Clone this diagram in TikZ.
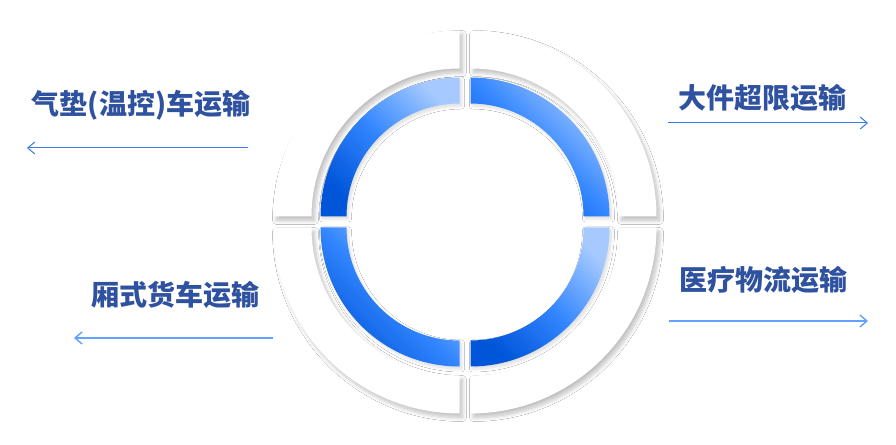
\documentclass[tikz,border=0pt]{standalone}
\usepackage{fontspec}
\newfontfamily\cjk{Noto Sans CJK SC}
\usetikzlibrary{positioning,calc,shadows.blur,arrows.meta}
\definecolor{labelblue}{HTML}{2E529F}
\definecolor{ringlight}{HTML}{A6CAFF}
\definecolor{ringmid}{HTML}{3386FF}
\definecolor{ringdark}{HTML}{0055D8}
\definecolor{arrowdark}{HTML}{3A7BE6}
\definecolor{arrowlight}{HTML}{64A0FF}
\tikzset{%
  outer seg/.style={
    fill=white,
    blur shadow={shadow xshift=3pt, shadow yshift=-4pt, shadow blur radius=4pt, shadow blur steps=10, shadow opacity=25}
  },
  inner seg/.style={
    top color=ringlight,
    bottom color=ringdark,
    middle color=ringmid,
    shading angle=-45,
    blur shadow={shadow xshift=2pt, shadow yshift=-2.5pt, shadow blur radius=3pt, shadow blur steps=8, shadow opacity=14}
  },
  mode label/.style={
    font=\cjk\bfseries\fontsize{28}{34}\selectfont,
    text=labelblue,
    inner sep=0pt
  },
  mode arrow/.style={->, line width=1pt},
}
\begin{document}
\begin{tikzpicture}[x=1pt, y=1pt, >={Straight Barb[length=7pt, width=12pt]}]
        \fill[white] (0,0) rectangle (896,444);
        \useasboundingbox (0,0) rectangle (896,444);
        \coordinate (centre) at (465,222);

        \foreach \sx/\sy/\a in {1/1/0, -1/1/90, -1/-1/180, 1/-1/270}
            \path[outer seg] ($(centre)+(5.5*\sx,5.5*\sy)$) ++(\a:186)
              arc[start angle=\a, end angle=\a+90, radius=186]
              -- ++(\a+90:-38)
              arc[start angle=\a+90, end angle=\a, radius=148] -- cycle;
        \foreach \sx/\sy/\a in {1/1/0, -1/1/90, -1/-1/180, 1/-1/270}
            \shade[inner seg] ($(centre)+(5.5*\sx,5.5*\sy)$) ++(\a:139)
              arc[start angle=\a, end angle=\a+90, radius=139]
              -- ++(\a+90:-26)
              arc[start angle=\a+90, end angle=\a, radius=113] -- cycle;

        \node[mode label] (cushion) at (141,339) {气垫(温控)车运输};
        \node[mode label] (oversize) at (762,346) {大件超限运输};
        \node[mode label] (boxtruck) at (175,149) {厢式货车运输};
        \node[mode label] (medical) at (763,164) {医疗物流运输};

        \coordinate (cushion-tail) at (248,296);
        \coordinate (cushion-tip) at (27,296);
        \coordinate (oversize-tail) at (668,321);
        \coordinate (oversize-tip) at (868,321);
        \coordinate (boxtruck-tail) at (273,106);
        \coordinate (boxtruck-tip) at (74,106);
        \coordinate (medical-tail) at (669,123);
        \coordinate (medical-tip) at (868,123);

        \draw[mode arrow, arrowdark] (cushion-tail) -- (cushion-tip);
        \draw[mode arrow, arrowdark] (oversize-tail) -- (oversize-tip);
        \draw[mode arrow, arrowlight, line width=1.4pt] (boxtruck-tail) -- (boxtruck-tip);
        \draw[mode arrow, arrowlight, line width=1.4pt] (medical-tail) -- (medical-tip);
\end{tikzpicture}
\end{document}
